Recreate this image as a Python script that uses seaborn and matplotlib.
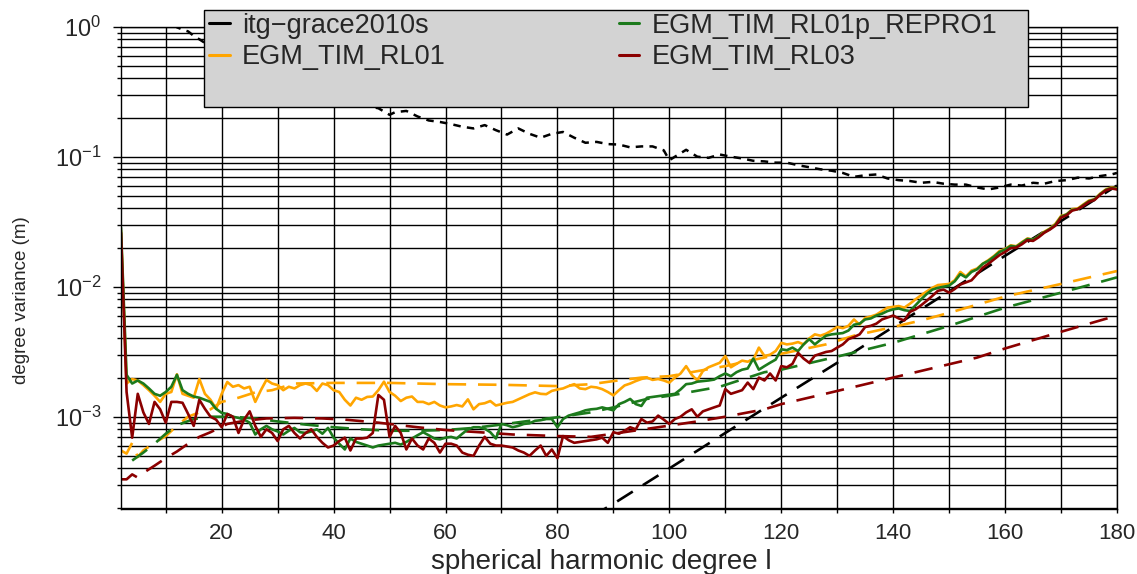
import numpy as np
import pandas as pd
import seaborn as sns
import matplotlib.pyplot as plt
from matplotlib.lines import Line2D
from matplotlib.patches import Rectangle
from matplotlib.ticker import MultipleLocator, LogLocator

# spherical harmonic degrees 2..180
degree = list(range(2, 181))

# EGM_TIM_RL01 (solid, per degree 2..180)
rl01 = [2.7e-2, 1.8e-3, 1.95e-3, 1.9e-3, 1.75e-3, 1.6e-3, 1.45e-3, 1.3e-3, 1.5e-3,
        1.55e-3, 2.12e-3, 1.5e-3, 1.45e-3, 1.4e-3, 1.95e-3, 1.5e-3, 1.35e-3, 1.15e-3, 1.5e-3,
        1.85e-3, 1.7e-3, 1.75e-3, 1.65e-3, 1.7e-3, 1.3e-3, 1.6e-3, 1.92e-3, 1.8e-3, 1.75e-3,
        1.6e-3, 1.7e-3, 1.65e-3, 1.75e-3, 1.8e-3, 1.75e-3, 1.58e-3, 1.8e-3, 1.75e-3, 1.6e-3,
        1.55e-3, 1.35e-3, 1.22e-3, 1.4e-3, 1.35e-3, 1.42e-3, 1.43e-3, 1.6e-3, 1.86e-3, 1.55e-3,
        1.45e-3, 1.32e-3, 1.4e-3, 1.43e-3, 1.3e-3, 1.3e-3, 1.25e-3, 1.3e-3, 1.22e-3, 1.18e-3,
        1.2e-3, 1.23e-3, 1.2e-3, 1.36e-3, 1.14e-3, 1.25e-3, 1.27e-3, 1.32e-3, 1.22e-3, 1.25e-3,
        1.28e-3, 1.3e-3, 1.36e-3, 1.42e-3, 1.49e-3, 1.54e-3, 1.5e-3, 1.49e-3, 1.58e-3, 1.62e-3,
        1.65e-3, 1.72e-3, 1.78e-3, 1.65e-3, 1.63e-3, 1.7e-3, 1.68e-3, 1.63e-3, 1.55e-3, 1.46e-3,
        1.6e-3, 1.74e-3, 1.8e-3, 1.88e-3, 1.95e-3, 2.0e-3, 1.92e-3, 1.95e-3, 1.9e-3, 1.83e-3,
        2.0e-3, 2.15e-3, 2.45e-3, 2.1e-3, 1.9e-3, 2.25e-3, 2.4e-3, 2.5e-3, 2.6e-3, 2.93e-3,
        2.4e-3, 2.55e-3, 2.7e-3, 2.65e-3, 2.75e-3, 3.4e-3, 2.93e-3, 3.0e-3, 3.2e-3, 3.7e-3,
        3.6e-3, 3.65e-3, 3.75e-3, 3.6e-3, 4.0e-3, 4.3e-3, 4.2e-3, 4.35e-3, 4.6e-3, 4.9e-3,
        4.8e-3, 5.0e-3, 5.6e-3, 5.1e-3, 5.75e-3, 5.9e-3, 6.1e-3, 6.5e-3, 6.9e-3, 7.0e-3,
        7.1e-3, 6.9e-3, 7.4e-3, 8.0e-3, 8.6e-3, 9.2e-3, 9.8e-3, 1.03e-2, 1.04e-2, 1.05e-2,
        1.12e-2, 1.3e-2, 1.2e-2, 1.33e-2, 1.38e-2, 1.5e-2, 1.6e-2, 1.72e-2, 1.88e-2, 1.95e-2,
        2.08e-2, 2.05e-2, 2.2e-2, 2.35e-2, 2.3e-2, 2.45e-2, 2.65e-2, 2.8e-2, 3.05e-2, 3.5e-2,
        3.6e-2, 3.95e-2, 4.0e-2, 4.3e-2, 4.6e-2, 4.7e-2, 5.2e-2, 5.6e-2, 5.8e-2, 5.7e-2]

# EGM_TIM_RL01p_REPRO1 (solid)
repro1 = [2.85e-2, 2.1e-3, 1.8e-3, 1.9e-3, 1.8e-3, 1.65e-3, 1.5e-3, 1.45e-3, 1.55e-3,
          1.7e-3, 2.1e-3, 1.6e-3, 1.5e-3, 1.43e-3, 1.4e-3, 1.35e-3, 1.3e-3, 1.15e-3, 1.07e-3,
          1.05e-3, 1.0e-3, 9.8e-4, 9.5e-4, 9.0e-4, 7.3e-4, 8.0e-4, 8.5e-4, 8.0e-4, 7.7e-4,
          7.3e-4, 7.8e-4, 8.2e-4, 7.6e-4, 7.5e-4, 7.7e-4, 8.0e-4, 7.4e-4, 8.2e-4, 6.9e-4,
          6.2e-4, 5.6e-4, 6.8e-4, 6.4e-4, 6.2e-4, 6.0e-4, 5.8e-4, 6.0e-4, 6.1e-4, 6.2e-4,
          6.3e-4, 6.1e-4, 6.4e-4, 6.8e-4, 7.2e-4, 7.6e-4, 7.2e-4, 6.8e-4, 6.7e-4, 6.9e-4,
          7.0e-4, 6.8e-4, 7.4e-4, 8.0e-4, 8.3e-4, 8.3e-4, 8.1e-4, 7.6e-4, 6.8e-4, 8.8e-4,
          8.6e-4, 8.3e-4, 8.5e-4, 8.8e-4, 8.9e-4, 9.3e-4, 9.4e-4, 9.6e-4, 9.6e-4, 8.3e-4,
          9.6e-4, 1.02e-3, 1.05e-3, 1.08e-3, 1.12e-3, 1.14e-3, 1.15e-3, 1.18e-3, 1.15e-3, 1.12e-3,
          1.25e-3, 1.3e-3, 1.37e-3, 1.25e-3, 1.21e-3, 1.4e-3, 1.42e-3, 1.44e-3, 1.46e-3, 1.48e-3,
          1.5e-3, 1.62e-3, 1.78e-3, 1.8e-3, 1.86e-3, 1.88e-3, 1.9e-3, 1.93e-3, 2.05e-3, 2.15e-3,
          2.05e-3, 2.2e-3, 2.3e-3, 2.35e-3, 2.8e-3, 2.3e-3, 2.45e-3, 2.6e-3, 2.75e-3, 3.3e-3,
          3.25e-3, 3.4e-3, 3.2e-3, 3.6e-3, 3.95e-3, 3.6e-3, 3.9e-3, 4.2e-3, 4.3e-3, 4.35e-3,
          4.4e-3, 4.6e-3, 5.1e-3, 5.2e-3, 5.6e-3, 5.7e-3, 6.0e-3, 6.2e-3, 6.5e-3, 6.7e-3,
          6.8e-3, 6.6e-3, 6.5e-3, 7.2e-3, 8.0e-3, 8.8e-3, 9.5e-3, 9.8e-3, 1.0e-2, 1.02e-2,
          1.1e-2, 1.25e-2, 1.18e-2, 1.3e-2, 1.36e-2, 1.5e-2, 1.58e-2, 1.7e-2, 1.85e-2, 1.93e-2,
          2.06e-2, 2.03e-2, 2.18e-2, 2.33e-2, 2.3e-2, 2.45e-2, 2.62e-2, 2.78e-2, 3.0e-2, 3.45e-2,
          3.6e-2, 3.9e-2, 3.95e-2, 4.25e-2, 4.55e-2, 4.7e-2, 5.15e-2, 5.55e-2, 5.75e-2, 5.65e-2]

# EGM_TIM_RL03 (solid)
rl03 = [2.6e-2, 1.55e-3, 6.9e-4, 1.5e-3, 1.08e-3, 8.8e-4, 1.3e-3, 1.14e-3, 9.0e-4,
        1.3e-3, 1.3e-3, 1.28e-3, 1.05e-3, 8.5e-4, 1.35e-3, 1.15e-3, 1.0e-3, 9.5e-4, 8.3e-4,
        1.05e-3, 1.0e-3, 7.5e-4, 9.5e-4, 1.1e-3, 8.5e-4, 7.0e-4, 8.0e-4, 7.5e-4, 6.5e-4,
        8.0e-4, 8.5e-4, 7.5e-4, 6.8e-4, 7.5e-4, 8.0e-4, 7.0e-4, 6.3e-4, 5.8e-4, 6.0e-4,
        6.5e-4, 6.9e-4, 5.5e-4, 6.8e-4, 6.8e-4, 6.9e-4, 7.5e-4, 1.47e-3, 1.35e-3, 7.0e-4,
        8.5e-4, 7.5e-4, 5.6e-4, 6.8e-4, 6.0e-4, 5.6e-4, 6.8e-4, 6.3e-4, 5.3e-4, 6.2e-4,
        6.2e-4, 6.0e-4, 5.3e-4, 5.1e-4, 5.0e-4, 6.0e-4, 7.0e-4, 6.2e-4, 6.0e-4, 6.0e-4,
        5.9e-4, 5.8e-4, 5.5e-4, 5.3e-4, 5.0e-4, 5.5e-4, 6.0e-4, 5.0e-4, 5.6e-4, 4.8e-4,
        7.1e-4, 6.6e-4, 6.3e-4, 6.4e-4, 6.5e-4, 6.6e-4, 6.7e-4, 6.9e-4, 6.3e-4, 7.6e-4,
        7.4e-4, 7.8e-4, 8.3e-4, 8.0e-4, 9.6e-4, 9.0e-4, 9.2e-4, 1.02e-3, 9.5e-4, 8.8e-4,
        9.6e-4, 1.0e-3, 1.08e-3, 1.14e-3, 1.0e-3, 1.1e-3, 1.14e-3, 1.18e-3, 1.22e-3, 1.63e-3,
        1.5e-3, 1.55e-3, 1.6e-3, 1.83e-3, 1.63e-3, 2.0e-3, 1.9e-3, 2.15e-3, 1.9e-3, 2.45e-3,
        2.4e-3, 2.55e-3, 3.1e-3, 2.8e-3, 2.6e-3, 2.95e-3, 3.05e-3, 3.15e-3, 3.2e-3, 3.4e-3,
        3.6e-3, 3.95e-3, 4.1e-3, 4.3e-3, 4.9e-3, 5.0e-3, 5.2e-3, 5.6e-3, 5.8e-3, 6.0e-3,
        5.7e-3, 5.5e-3, 6.4e-3, 6.7e-3, 7.2e-3, 7.8e-3, 8.5e-3, 9.3e-3, 9.5e-3, 9.0e-3,
        9.6e-3, 1.04e-2, 1.08e-2, 1.12e-2, 1.25e-2, 1.4e-2, 1.5e-2, 1.62e-2, 1.75e-2, 1.85e-2,
        1.98e-2, 2.0e-2, 2.12e-2, 2.28e-2, 2.25e-2, 2.4e-2, 2.6e-2, 2.75e-2, 2.95e-2, 3.4e-2,
        3.55e-2, 3.85e-2, 3.95e-2, 4.2e-2, 4.5e-2, 4.65e-2, 5.1e-2, 5.5e-2, 5.7e-2, 5.6e-2]

# formal errors (dashed)
rl01_err_deg = [2, 3, 4, 5, 6, 8, 10, 12, 14, 16, 18, 20, 23, 26, 29, 33, 40, 50, 60, 70,
                80, 86, 90, 95, 100, 110, 120, 128, 133, 140, 145, 150, 160, 170, 180]
rl01_err = [5.5e-4, 5.2e-4, 6.3e-4, 4.9e-4, 5.5e-4, 6.3e-4, 7.1e-4, 8.5e-4, 1.0e-3, 1.08e-3,
            1.14e-3, 1.3e-3, 1.4e-3, 1.54e-3, 1.6e-3, 1.8e-3, 1.82e-3, 1.82e-3, 1.78e-3, 1.76e-3,
            1.72e-3, 1.78e-3, 1.88e-3, 2.0e-3, 2.05e-3, 2.45e-3, 3.05e-3, 3.6e-3, 4.2e-3, 4.9e-3,
            5.5e-3, 6.3e-3, 8.4e-3, 1.05e-2, 1.32e-2]

repro1_err_deg = [4, 6, 8, 10, 12, 15, 18, 22, 26, 30, 35, 40, 45, 50, 55, 60, 65, 70, 75, 80,
                  86, 90, 96, 100, 109, 117, 120, 130, 140, 150, 160, 170, 180]
repro1_err = [4.6e-4, 5.3e-4, 6.2e-4, 7.4e-4, 8.6e-4, 9.6e-4, 1.0e-3, 1.0e-3, 9.7e-4, 9.2e-4,
              8.7e-4, 8.3e-4, 8.0e-4, 7.8e-4, 7.8e-4, 7.9e-4, 8.2e-4, 8.7e-4, 9.3e-4, 9.9e-4,
              1.08e-3, 1.18e-3, 1.37e-3, 1.45e-3, 1.7e-3, 2.2e-3, 2.3e-3, 2.9e-3, 3.7e-3, 5.0e-3,
              6.9e-3, 9.0e-3, 1.18e-2]

rl03_err_deg = [2, 3, 4, 5, 6, 8, 10, 12, 14, 16, 18, 21, 24, 28, 33, 38, 42, 48, 55, 60,
                66, 72, 80, 86, 90, 98, 105, 110, 117, 120, 127, 140, 155, 160, 170, 180]
rl03_err = [3.3e-4, 3.3e-4, 3.6e-4, 3.4e-4, 3.7e-4, 4.2e-4, 4.8e-4, 5.4e-4, 6.2e-4, 7.0e-4,
            7.6e-4, 8.8e-4, 9.3e-4, 9.7e-4, 9.8e-4, 9.7e-4, 9.5e-4, 9.0e-4, 8.3e-4, 7.9e-4,
            7.6e-4, 7.3e-4, 7.1e-4, 7.0e-4, 7.4e-4, 8.3e-4, 9.2e-4, 1.0e-3, 1.14e-3, 1.25e-3,
            1.47e-3, 2.0e-3, 2.85e-3, 3.35e-3, 4.5e-3, 6.0e-3]

grace_err_deg = [86, 90, 100, 110, 120, 130, 140, 150, 160, 170, 180]
grace_err = [1.7e-4, 2.14e-4, 4.0e-4, 7.5e-4, 1.4e-3, 2.6e-3, 4.9e-3, 9.2e-3, 1.73e-2, 3.2e-2, 6.0e-2]

# itg-grace2010s signal degree variance
grace_deg = [10, 11, 12, 13, 14, 15, 16, 17, 18, 20, 22, 25, 28, 31, 35, 40, 45, 47, 48, 50,
             51, 53, 55, 57, 59, 61, 63, 65, 67, 69, 71, 73, 75, 77, 79, 81, 83, 85, 87, 89,
             91, 93, 95, 97, 99, 100, 101, 103, 105, 107, 109, 111, 113, 115, 117, 119, 121, 123,
             125, 127, 129, 131, 133, 135, 137, 139, 141, 143, 145, 147, 149, 151, 153, 155, 157,
             159, 161, 163, 165, 167, 169, 171, 173, 175, 177, 179, 180]
grace_sig = [1.25, 1.1, 0.99, 0.95, 0.92, 0.85, 0.8, 0.75, 0.7, 0.63, 0.55, 0.47, 0.41, 0.37,
             0.33, 0.29, 0.25, 0.24, 0.236, 0.21, 0.22, 0.225, 0.204, 0.19, 0.185, 0.178, 0.17,
             0.165, 0.175, 0.16, 0.148, 0.165, 0.15, 0.14, 0.15, 0.155, 0.14, 0.128, 0.13, 0.125,
             0.124, 0.118, 0.12, 0.12, 0.112, 0.094, 0.1, 0.113, 0.1, 0.098, 0.104, 0.1, 0.097,
             0.093, 0.092, 0.09, 0.09, 0.086, 0.083, 0.08, 0.078, 0.075, 0.07, 0.072, 0.073,
             0.068, 0.066, 0.065, 0.063, 0.064, 0.062, 0.061, 0.061, 0.058, 0.056, 0.058, 0.061,
             0.06, 0.063, 0.062, 0.065, 0.066, 0.069, 0.068, 0.071, 0.073, 0.075]

names = ["itg\u2212grace2010s", "EGM_TIM_RL01", "EGM_TIM_RL01p_REPRO1", "EGM_TIM_RL03"]
colors = ["black", "#ffa500", "#1c7a1c", "#8b0000"]

sns.set_theme(style="ticks")
plt.rcParams['font.family'] = ['Liberation Sans', 'DejaVu Sans']

fig = plt.figure(figsize=(11.37, 5.74), dpi=100)
ax = fig.add_axes([0.1064, 0.1132, 0.8760, 0.8403])

dash_long = (0, (7, 4.5))
lw = 1.9

sns.lineplot(x=grace_deg, y=grace_sig, ax=ax, color="black", lw=1.8,
             linestyle=(0, (3, 2.5)), estimator=None, errorbar=None)
sns.lineplot(x=grace_err_deg, y=grace_err, ax=ax, color="black", lw=lw,
             linestyle=dash_long, estimator=None, errorbar=None)
sns.lineplot(x=rl01_err_deg, y=rl01_err, ax=ax, color=colors[1], lw=lw,
             linestyle=dash_long, estimator=None, errorbar=None)
sns.lineplot(x=repro1_err_deg, y=repro1_err, ax=ax, color=colors[2], lw=lw,
             linestyle=dash_long, estimator=None, errorbar=None)
sns.lineplot(x=rl03_err_deg, y=rl03_err, ax=ax, color=colors[3], lw=lw,
             linestyle=dash_long, estimator=None, errorbar=None)
sns.lineplot(x=degree, y=rl01, ax=ax, color=colors[1], lw=lw, estimator=None, errorbar=None)
sns.lineplot(x=degree, y=repro1, ax=ax, color=colors[2], lw=lw, estimator=None, errorbar=None)
sns.lineplot(x=degree, y=rl03, ax=ax, color=colors[3], lw=lw, estimator=None, errorbar=None)

ax.set_yscale("log")
ax.set_xlim(2, 180)
ax.set_ylim(1.95e-4, 1.0)
ax.xaxis.set_major_locator(MultipleLocator(20))
ax.xaxis.set_minor_locator(MultipleLocator(10))
ax.yaxis.set_major_locator(LogLocator(base=10))
ax.yaxis.set_minor_locator(LogLocator(base=10, subs=np.arange(2, 10)))
ax.grid(True, which="both", color="black", lw=1.0)
ax.set_axisbelow(True)
for s in ax.spines.values():
    s.set_color("black")
    s.set_linewidth(1.0)
ax.tick_params(axis="y", which="major", length=6, width=1, color="black", labelsize=17, pad=8)
ax.tick_params(axis="y", which="minor", length=3, width=1, color="black")
ax.tick_params(axis="x", which="both", length=3, width=1, color="black", labelsize=16, pad=7)
ax.set_xlabel("spherical harmonic degree l", fontsize=20)
ax.xaxis.set_label_coords(0.482, -0.11)
ax.xaxis.label.set_va("center")
ax.set_ylabel("")
fig.text(0.0193, 0.477, "degree variance (m)", rotation=90, fontsize=13.5,
         ha="center", va="center")

# grey legend box
fig.patches.append(Rectangle((0.1794, 0.8136), 0.7246, 0.169, transform=fig.transFigure,
                             facecolor="#d3d3d3", edgecolor="black", lw=1.0, zorder=5))
handles = [Line2D([], [], color=c, lw=2.2) for c in colors]
leg = fig.legend(handles, names, loc="upper left", bbox_to_anchor=(0.1794, 0.987),
                 ncol=2, frameon=False, fontsize=19.5, handlelength=0.75, handletextpad=0.45,
                 columnspacing=6.4, labelspacing=0.2, borderaxespad=0, borderpad=0.2)
leg.set_zorder(6)

fig.savefig("out.png", dpi=100)
